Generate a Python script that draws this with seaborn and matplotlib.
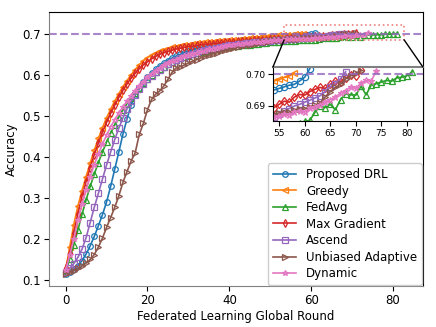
import numpy as np
import pandas as pd
import matplotlib
matplotlib.use("Agg")
import matplotlib.pyplot as plt
import seaborn as sns
from matplotlib.patches import Rectangle, ConnectionPatch

# accuracy per global round
proposed_drl = [0.115, 0.119, 0.126, 0.135, 0.147, 0.163, 0.183, 0.206, 0.232, 0.259,
                0.290, 0.328, 0.370, 0.412, 0.455, 0.493, 0.526, 0.550, 0.568, 0.583,
                0.595, 0.605, 0.614, 0.622, 0.629, 0.635, 0.641, 0.646, 0.650, 0.654,
                0.658, 0.661, 0.664, 0.667, 0.669, 0.671, 0.673, 0.675, 0.677, 0.678,
                0.680, 0.681, 0.682, 0.684, 0.685, 0.686, 0.687, 0.688, 0.689, 0.690,
                0.691, 0.692, 0.693, 0.694, 0.6950, 0.6955, 0.6960, 0.6965, 0.6968, 0.6978,
                0.6990, 0.7017]
greedy = [0.125, 0.180, 0.235, 0.280, 0.318, 0.352, 0.385, 0.416, 0.445, 0.471,
          0.495, 0.516, 0.536, 0.554, 0.571, 0.586, 0.600, 0.613, 0.624, 0.634,
          0.642, 0.648, 0.653, 0.657, 0.661, 0.664, 0.667, 0.669, 0.671, 0.672,
          0.673, 0.675, 0.677, 0.678, 0.679, 0.680, 0.681, 0.682, 0.683, 0.6835,
          0.684, 0.685, 0.686, 0.687, 0.688, 0.689, 0.690, 0.691, 0.692, 0.693,
          0.694, 0.695, 0.696, 0.697, 0.6978, 0.6983, 0.6989, 0.6994, 0.7003]
fedavg = [0.120, 0.152, 0.186, 0.222, 0.260, 0.295, 0.328, 0.358, 0.386, 0.412,
          0.436, 0.458, 0.478, 0.497, 0.514, 0.530, 0.544, 0.557, 0.569, 0.580,
          0.590, 0.599, 0.607, 0.614, 0.620, 0.626, 0.631, 0.636, 0.640, 0.644,
          0.647, 0.650, 0.653, 0.655, 0.658, 0.660, 0.662, 0.664, 0.666, 0.667,
          0.669, 0.670, 0.671, 0.672, 0.673, 0.674, 0.675, 0.676, 0.677, 0.678,
          0.679, 0.680, 0.681, 0.682, 0.6825, 0.683, 0.6835, 0.6838, 0.6842, 0.6848,
          0.6852, 0.6855, 0.6880, 0.6900, 0.6895, 0.6905, 0.6888, 0.6920, 0.6938, 0.6935,
          0.6934, 0.6962, 0.6935, 0.6966, 0.6970, 0.6975, 0.6980, 0.6978, 0.6988, 0.6990,
          0.6995, 0.7007]
max_gradient = [0.130, 0.165, 0.215, 0.262, 0.304, 0.340, 0.374, 0.405, 0.434, 0.460,
                0.484, 0.506, 0.526, 0.545, 0.562, 0.578, 0.592, 0.604, 0.615, 0.624,
                0.632, 0.639, 0.645, 0.650, 0.654, 0.657, 0.660, 0.663, 0.665, 0.667,
                0.669, 0.670, 0.672, 0.673, 0.674, 0.675, 0.676, 0.677, 0.678, 0.679,
                0.680, 0.681, 0.6815, 0.682, 0.683, 0.6835, 0.684, 0.685, 0.6855, 0.686,
                0.687, 0.6875, 0.688, 0.6885, 0.6895, 0.6905, 0.6915, 0.6912, 0.6928, 0.6936,
                0.6934, 0.6945, 0.6952, 0.6958, 0.6955, 0.6968, 0.6978, 0.6975, 0.6988, 0.6996,
                0.6995, 0.7012]
ascend = [0.120, 0.128, 0.140, 0.155, 0.175, 0.203, 0.240, 0.277, 0.311, 0.346,
          0.380, 0.412, 0.442, 0.470, 0.495, 0.517, 0.536, 0.552, 0.566, 0.578,
          0.589, 0.598, 0.606, 0.613, 0.620, 0.626, 0.631, 0.636, 0.640, 0.644,
          0.648, 0.651, 0.654, 0.657, 0.660, 0.662, 0.664, 0.666, 0.668, 0.670,
          0.672, 0.673, 0.675, 0.676, 0.677, 0.678, 0.679, 0.680, 0.681, 0.682,
          0.683, 0.684, 0.685, 0.686, 0.6866, 0.6875, 0.6885, 0.6892, 0.6900, 0.6905,
          0.6912, 0.6918, 0.6925, 0.6932, 0.6945, 0.6960, 0.6970, 0.6985, 0.7007]
unbiased = [0.115, 0.119, 0.123, 0.128, 0.134, 0.141, 0.150, 0.162, 0.180, 0.202,
            0.228, 0.252, 0.277, 0.305, 0.338, 0.364, 0.390, 0.410, 0.455, 0.482,
            0.515, 0.540, 0.553, 0.561, 0.573, 0.589, 0.606, 0.617, 0.620, 0.624,
            0.629, 0.633, 0.637, 0.641, 0.645, 0.648, 0.651, 0.654, 0.657, 0.660,
            0.663, 0.665, 0.668, 0.670, 0.672, 0.674, 0.676, 0.678, 0.679, 0.681,
            0.682, 0.684, 0.685, 0.686, 0.6875, 0.6878, 0.6882, 0.6880, 0.6888, 0.6892,
            0.6890, 0.6898, 0.6902, 0.6910, 0.6928, 0.6945, 0.6958, 0.6968, 0.6985, 0.6995,
            0.7003, 0.7010]
dynamic = [0.125, 0.160, 0.200, 0.245, 0.285, 0.320, 0.352, 0.381, 0.407, 0.431,
           0.453, 0.473, 0.491, 0.507, 0.522, 0.536, 0.549, 0.561, 0.572, 0.582,
           0.595, 0.603, 0.610, 0.617, 0.623, 0.628, 0.633, 0.637, 0.641, 0.645,
           0.648, 0.651, 0.654, 0.657, 0.659, 0.662, 0.664, 0.666, 0.668, 0.670,
           0.672, 0.674, 0.675, 0.676, 0.677, 0.678, 0.679, 0.680, 0.681, 0.682,
           0.683, 0.684, 0.685, 0.6855, 0.6865, 0.6868, 0.6875, 0.6872, 0.6882, 0.6885,
           0.6880, 0.6893, 0.6898, 0.6903, 0.6912, 0.6920, 0.6928, 0.6940, 0.6948, 0.6960,
           0.6955, 0.6972, 0.6980, 0.6978, 0.7010]

methods = ["Proposed DRL", "Greedy", "FedAvg", "Max Gradient", "Ascend",
           "Unbiased Adaptive", "Dynamic"]
series = [proposed_drl, greedy, fedavg, max_gradient, ascend, unbiased, dynamic]
markers = ["o", "<", "^", "d", "s", ">", "*"]
colors = sns.color_palette("tab10", 7)
target_acc = 0.7

rows = []
for name, vals in zip(methods, series):
    for r, v in enumerate(vals):
        rows.append({"method": name, "round": r, "acc": v})
df = pd.DataFrame(rows)

fig = plt.figure(figsize=(4.36, 3.27), dpi=100)
ax = fig.add_axes([0.112, 0.125, 0.858, 0.838])
axins = fig.add_axes([0.626, 0.630, 0.344, 0.165])

for a, ms in [(ax, 4), (axins, 4.5)]:
    for name, m, c in zip(methods, markers, colors):
        sub = df[df["method"] == name]
        sns.lineplot(data=sub, x="round", y="acc", ax=a, color=c, marker=m,
                     markersize=ms, mfc="none", mec=c, mew=0.9, linewidth=1.2,
                     label=name if a is ax else None, legend=False)
    a.axhline(target_acc, color="#9467bd", alpha=0.8, linestyle="--", linewidth=1.5)

ax.set_xlim(-4.1, 87.3)
ax.set_ylim(0.085, 0.753)
ax.set_xticks([0, 20, 40, 60, 80])
ax.set_yticks([0.1, 0.2, 0.3, 0.4, 0.5, 0.6, 0.7])
ax.set_xlabel("Federated Learning Global Round", fontsize=8.5, labelpad=2)
ax.set_ylabel("Accuracy", fontsize=8.5, labelpad=3)
ax.tick_params(labelsize=8.5, pad=2.5)
for s in ["left", "bottom"]:
    ax.spines[s].set_color("#808080")

axins.set_xlim(53.8, 83.1)
axins.set_ylim(0.6853, 0.7022)
axins.set_xticks([55, 60, 65, 70, 75, 80])
axins.set_yticks([0.69, 0.70])
axins.set_yticklabels(["0.69", "0.70"])
axins.set_xlabel("")
axins.set_ylabel("")
axins.tick_params(labelsize=6.5, pad=2)
axins.spines["top"].set_color("#808080")
axins.spines["top"].set_linewidth(1.5)

# zoomed region marker and connectors
x0, x1, y0, y1 = 53.4, 82.7, 0.6854, 0.722
ax.add_patch(Rectangle((x0, y0), x1 - x0, y1 - y0, fill=False,
                       edgecolor="#f08080", linestyle=":", linewidth=1.2, zorder=5))
for xa, xb in [(x0, 0), (x1, 1)]:
    con = ConnectionPatch(xyA=(xa, y0), coordsA=ax.transData,
                          xyB=(xb, 1), coordsB=axins.transAxes,
                          color="black", linewidth=1.0)
    fig.add_artist(con)

ax.legend(loc="lower right", fontsize=8.5, labelspacing=0.3,
          handlelength=2.0, borderaxespad=0.1, framealpha=1.0)

fig.savefig("out.png", dpi=100)
